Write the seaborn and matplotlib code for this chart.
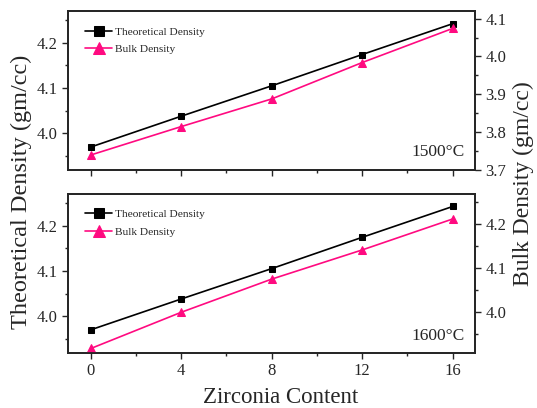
import matplotlib
matplotlib.use("Agg")
import matplotlib.pyplot as plt
import seaborn as sns
import pandas as pd
from matplotlib.ticker import MultipleLocator, FormatStrFormatter

zirconia = [0, 4, 8, 12, 16]
theoretical = [3.970, 4.038, 4.105, 4.174, 4.242]
bulk_1500 = [3.740, 3.815, 3.888, 3.984, 4.074]
bulk_1600 = [3.918, 4.000, 4.075, 4.141, 4.211]
panels = ["1500°C", "1600°C"]

sns.set_style("ticks")
plt.rcParams['font.family'] = ['Liberation Serif', 'DejaVu Serif']

fig = plt.figure(figsize=(5.37, 4.08), dpi=100)
ax_top = fig.add_axes([0.127, 0.583, 0.758, 0.390])
ax_bot = fig.add_axes([0.127, 0.135, 0.758, 0.390])

pink = "#FF0A80"
bulk_sets = [bulk_1500, bulk_1600]
right_lims = [(3.70, 4.12), (3.908, 4.268)]
label_y = [0.113, 0.107]

for i, (ax, bulk, label) in enumerate(zip([ax_top, ax_bot], bulk_sets, panels)):
    df = pd.DataFrame({"x": zirconia, "theo": theoretical, "bulk": bulk})
    ax2 = ax.twinx()
    sns.lineplot(data=df, x="x", y="theo", ax=ax, color="black", marker="s",
                 markersize=4.6, markeredgecolor="black", linewidth=1.2,
                 label="Theoretical Density", legend=False)
    sns.lineplot(data=df, x="x", y="bulk", ax=ax2, color=pink, marker="^",
                 markersize=5.6, markeredgecolor=pink, linewidth=1.2,
                 label="Bulk Density", legend=False)
    ax.set_xlim(-1, 17)
    ax.set_ylim(3.919, 4.27)
    ax2.set_ylim(*right_lims[i])
    ax.set_xticks(zirconia)
    ax.xaxis.set_minor_locator(MultipleLocator(2))
    ax.yaxis.set_major_locator(MultipleLocator(0.1))
    ax.yaxis.set_minor_locator(MultipleLocator(0.05))
    ax2.yaxis.set_major_locator(MultipleLocator(0.1))
    ax2.yaxis.set_minor_locator(MultipleLocator(0.05))
    ax.yaxis.set_major_formatter(FormatStrFormatter('%.1f'))
    ax2.yaxis.set_major_formatter(FormatStrFormatter('%.1f'))
    ax.set_xlabel("")
    ax.set_ylabel("")
    ax2.set_ylabel("")
    for a in (ax, ax2):
        a.tick_params(which="major", direction="out", length=4, width=1, labelsize=12)
        a.tick_params(which="minor", direction="out", length=2.5, width=1)
        for s in a.spines.values():
            s.set_linewidth(1.3)
            s.set_visible(True)
    if i == 0:
        ax.tick_params(axis="x", labelbottom=False)
    h1, l1 = ax.get_legend_handles_labels()
    h2, l2 = ax2.get_legend_handles_labels()
    ax2.legend(h1 + h2, l1 + l2, loc="upper left", frameon=False, fontsize=8.2,
               markerscale=1.6, handlelength=2.4, borderaxespad=0.0,
               labelspacing=0.68, handletextpad=0.25, bbox_to_anchor=(0.03, 0.93))
    ax.text(0.975, label_y[i], label, transform=ax.transAxes, ha="right", va="center",
            fontsize=12.5)

fig.text(0.039, 0.53, "Theoretical Density (gm/cc)", rotation=90, ha="center",
         va="center", fontsize=17.5)
fig.text(0.974, 0.549, "Bulk Density (gm/cc)", rotation=90, ha="center",
         va="center", fontsize=17)
fig.text(0.522, 0.026, "Zirconia Content", ha="center", va="center", fontsize=16.5)

fig.savefig("out.png", dpi=100)
